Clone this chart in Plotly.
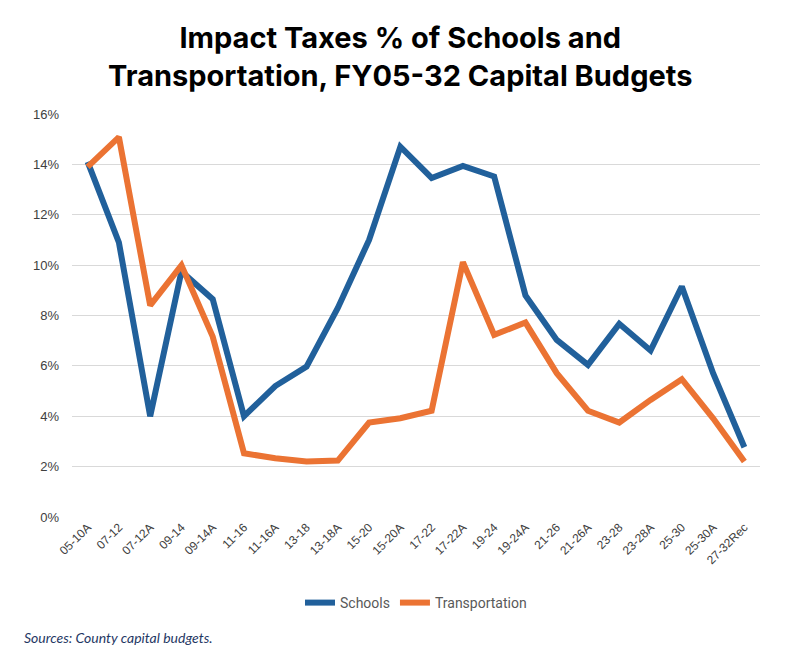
import plotly.graph_objects as go

# Capital budget periods (FY)
periods = [
    "05-10A", "07-12", "07-12A", "09-14", "09-14A", "11-16", "11-16A",
    "13-18", "13-18A", "15-20", "15-20A", "17-22", "17-22A", "19-24",
    "19-24A", "21-26", "21-26A", "23-28", "23-28A", "25-30", "25-30A",
    "27-32Rec",
]

# Impact taxes as share of each category's capital budget (%)
schools = [
    14.1, 10.9, 4.0, 9.75, 8.65, 4.0, 5.2, 5.97, 8.3, 11.0, 14.7,
    13.46, 13.94, 13.52, 8.8, 7.03, 6.04, 7.67, 6.61, 9.15, 5.71, 2.77,
]
transportation = [
    13.9, 15.08, 8.4, 9.99, 7.16, 2.53, 2.33, 2.2, 2.24, 3.75, 3.92,
    4.22, 10.12, 7.23, 7.72, 5.71, 4.22, 3.75, 4.65, 5.47, 3.92, 2.2,
]

y_ticks = [0, 2, 4, 6, 8, 10, 12, 14, 16]
y_labels = [f"{v}%" for v in y_ticks]

fig = go.Figure()
fig.add_trace(go.Scatter(
    x=periods, y=schools, name="Schools", mode="lines",
    line=dict(color="#21609B", width=6),
))
fig.add_trace(go.Scatter(
    x=periods, y=transportation, name="Transportation", mode="lines",
    line=dict(color="#EB7333", width=6),
))

fig.update_layout(
    width=787, height=666,
    paper_bgcolor="white", plot_bgcolor="white",
    # page body adds 8px, so margins are shifted to keep the plot in place
    margin=dict(l=64, r=35, t=106, b=157),
    legend=dict(
        orientation="h", x=0.5, xanchor="center", y=-0.2134, yanchor="middle",
        font=dict(family="Roboto, sans-serif", size=14, color="#595959"),
    ),
    font=dict(family="Liberation Sans, Arial, sans-serif"),
    annotations=[
        dict(
            text="<b>Impact Taxes % of Schools and<br>Transportation, FY05-32 Capital Budgets</b>",
            xref="paper", yref="paper", x=0.477, y=1.1427,
            xanchor="center", yanchor="middle", showarrow=False,
            font=dict(family="Inter, Open Sans, sans-serif", size=29, color="black"),
        ),
        dict(
            text="<i>Sources: County capital budgets.</i>",
            xref="paper", yref="paper", x=-0.0727, y=-0.300,
            xanchor="left", yanchor="middle", showarrow=False,
            font=dict(family="Lato, sans-serif", size=14, color="#1F3864"),
        ),
    ],
)

fig.update_xaxes(
    type="category",
    tickangle=-45, tickfont=dict(size=12, color="#404040"),
    showgrid=False, showline=False, ticks="",
    range=[-0.5, len(periods) - 0.5],
)
fig.update_yaxes(
    range=[0, 16], tickvals=y_ticks, ticktext=y_labels,
    tickfont=dict(size=13, color="#404040"),
    gridcolor="#D9D9D9", gridwidth=1, zeroline=False,
    showline=False, ticklabelstandoff=12,
)

fig.write_html("out.html")
